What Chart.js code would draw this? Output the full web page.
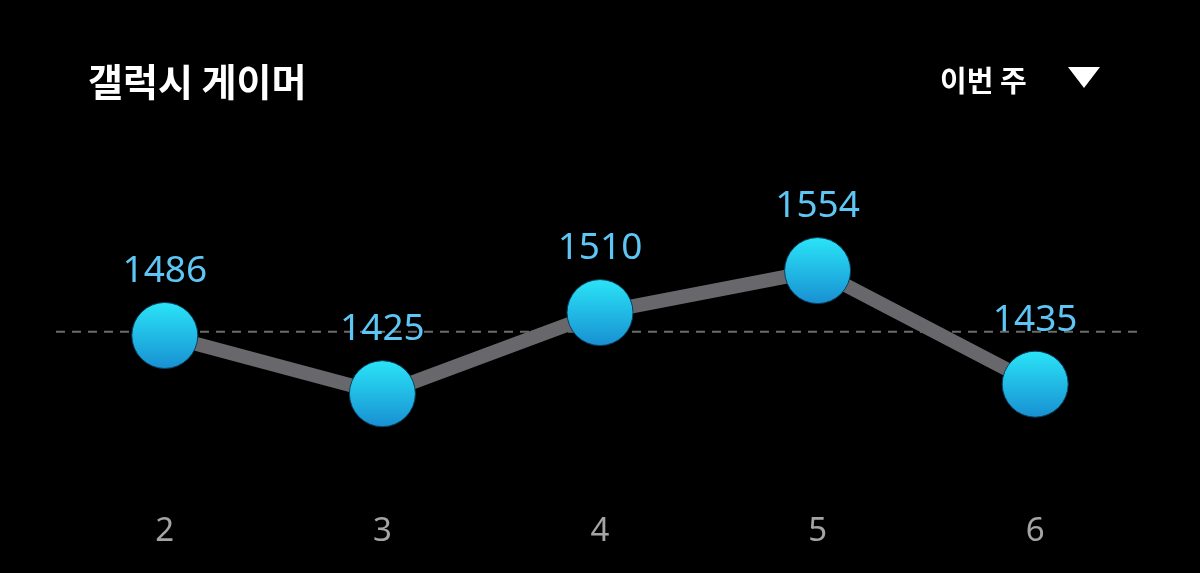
<!DOCTYPE html>
<html>
<head>
<meta charset="utf-8">
<script src="https://cdn.jsdelivr.net/npm/chart.js@4"></script>
<style>
  body { margin: 0; background: #000; }
  #wrap { position: relative; width: 1200px; height: 573px; background: #000; }
  .title { position: absolute; left: 88px; top: 52px; color: #fff; font: bold 38px "Noto Sans CJK KR"; }
  .period { position: absolute; left: 940px; top: 58px; color: #fff; font: bold 29px "Noto Sans CJK KR"; }
  .arrow { position: absolute; left: 1068px; top: 67px; width: 0; height: 0;
    border-left: 16px solid transparent; border-right: 16px solid transparent; border-top: 21px solid #fff; }
</style>
</head>
<body>
<div id="wrap">
  <canvas id="chart"></canvas>
  <div class="title">갤럭시 게이머</div>
  <div class="period">이번 주</div>
  <div class="arrow"></div>
</div>
<script>
const weeks = ["2", "3", "4", "5", "6"];
const scores = [1486, 1425, 1510, 1554, 1435];
const refLine = 1490;

// dashed reference line + value labels
const extras = {
  id: "extras",
  beforeDatasetsDraw(chart) {
    const { ctx, chartArea, scales } = chart;
    const y = scales.y.getPixelForValue(refLine);
    ctx.save();
    ctx.strokeStyle = "#6b6b6b";
    ctx.lineWidth = 2;
    ctx.setLineDash([9, 7]);
    ctx.beginPath();
    ctx.moveTo(chartArea.left, y);
    ctx.lineTo(chartArea.right, y);
    ctx.stroke();
    ctx.restore();
  },
  afterDatasetsDraw(chart) {
    const { ctx } = chart;
    const meta = chart.getDatasetMeta(0);
    ctx.save();
    ctx.fillStyle = "#5ec6f4";
    ctx.font = "37px 'Noto Sans'";
    ctx.textAlign = "center";
    ctx.textBaseline = "middle";
    meta.data.forEach((pt, i) => {
      ctx.fillText(String(scores[i]), pt.x, pt.y - 64);
    });
    ctx.restore();
  },
};

function ballFill(c) {
  const el = c.element;
  if (!el || el.y == null || isNaN(el.y)) return "#22c4ec";
  const g = c.chart.ctx.createLinearGradient(0, el.y - 33, 0, el.y + 33);
  g.addColorStop(0, "#2ae4f7");
  g.addColorStop(1, "#1890d2");
  return g;
}

new Chart(document.getElementById("chart"), {
  type: "line",
  data: {
    labels: weeks,
    datasets: [{
      data: scores,
      borderColor: "#68686c",
      borderWidth: 14,
      tension: 0,
      pointRadius: 33,
      pointHoverRadius: 33,
      pointBackgroundColor: ballFill,
      pointBorderColor: "#0b3f5c",
      pointBorderWidth: 1,
    }],
  },
  options: {
    responsive: true,
    maintainAspectRatio: false,
    animation: false,
    layout: { padding: { top: 179, left: 56, right: 56, bottom: 22 } },
    plugins: { legend: { display: false }, tooltip: { enabled: false } },
    scales: {
      x: {
        offset: true,
        grid: { display: false },
        border: { display: false },
        ticks: { color: "#a4a4a4", font: { family: "Noto Sans", size: 33 }, padding: 0 },
      },
      y: {
        display: false,
        min: 1310,
        max: 1650,
      },
    },
  },
  plugins: [extras],
});
</script>
</body>
</html>
